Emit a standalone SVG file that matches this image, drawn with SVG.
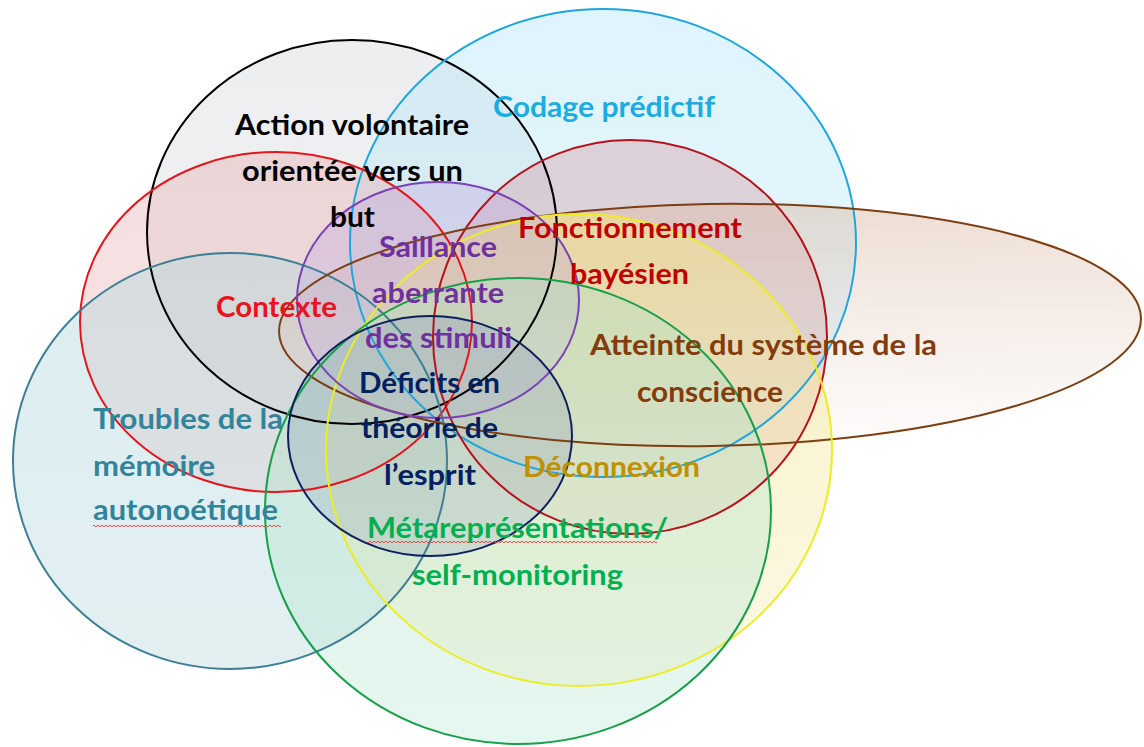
<svg xmlns="http://www.w3.org/2000/svg" width="1144" height="747" viewBox="0 0 1144 747">
<style>
.o{stroke-width:2;fill:none;}
.t{font-family:Lato,"Open Sans","Liberation Sans",sans-serif;font-weight:700;font-size:28px;}
</style>
<defs>
<linearGradient id="gBlack" x1="0" y1="0" x2="0" y2="1"><stop offset="0" stop-color="#d7d9dc" stop-opacity="0.45"/><stop offset="1" stop-color="#d7d9dc" stop-opacity="0.36"/></linearGradient>
<linearGradient id="gBlue" x1="0" y1="0" x2="0" y2="1"><stop offset="0" stop-color="#b6e6f7" stop-opacity="0.45"/><stop offset="1" stop-color="#b6e6f7" stop-opacity="0.32"/></linearGradient>
<linearGradient id="gRed" x1="0" y1="0" x2="0" y2="1"><stop offset="0" stop-color="#e8b2b4" stop-opacity="0.44"/><stop offset="1" stop-color="#e8b2b4" stop-opacity="0.32"/></linearGradient>
<linearGradient id="gTeal" x1="0" y1="0" x2="0" y2="1"><stop offset="0" stop-color="#b2d7dc" stop-opacity="0.44"/><stop offset="1" stop-color="#b2d7dc" stop-opacity="0.38"/></linearGradient>
<linearGradient id="gDred" x1="0" y1="0" x2="0" y2="1"><stop offset="0" stop-color="#d49aa4" stop-opacity="0.4"/><stop offset="1" stop-color="#d49aa4" stop-opacity="0.3"/></linearGradient>
<linearGradient id="gBrown" x1="0" y1="0" x2="0" y2="1"><stop offset="0" stop-color="#dcbca8" stop-opacity="0.5"/><stop offset="1" stop-color="#e0c4b4" stop-opacity="0.05"/></linearGradient>
<linearGradient id="gYellow" x1="0" y1="0" x2="0" y2="1"><stop offset="0" stop-color="#f3e488" stop-opacity="0.55"/><stop offset="1" stop-color="#f5ecb0" stop-opacity="0.32"/></linearGradient>
<linearGradient id="gPurple" x1="0" y1="0" x2="0" y2="1"><stop offset="0" stop-color="#c0a8dc" stop-opacity="0.38"/><stop offset="1" stop-color="#c0a8dc" stop-opacity="0.28"/></linearGradient>
<linearGradient id="gGreen" x1="0" y1="0" x2="0" y2="1"><stop offset="0" stop-color="#b0e0c0" stop-opacity="0.45"/><stop offset="1" stop-color="#c0eada" stop-opacity="0.4"/></linearGradient>
<linearGradient id="gNavy" x1="0" y1="0" x2="0" y2="1"><stop offset="0" stop-color="#909cbc" stop-opacity="0.34"/><stop offset="1" stop-color="#909cbc" stop-opacity="0.24"/></linearGradient>
<pattern id="squig" width="4" height="4" patternUnits="userSpaceOnUse"><path d="M0,3 L2,1 L4,3" stroke="#e0403c" stroke-width="0.9" fill="none"/></pattern>
</defs>
<rect width="1144" height="747" fill="#ffffff"/>

<g id="shapes">
<g id="action-volontaire"><ellipse cx="352" cy="232" rx="205" ry="192" fill="url(#gBlack)"/></g>
<g id="codage-predictif"><ellipse cx="603" cy="243" rx="253" ry="234" fill="url(#gBlue)"/></g>
<g id="contexte"><ellipse cx="276" cy="322" rx="196" ry="170" fill="url(#gRed)"/></g>
<g id="troubles-memoire"><ellipse cx="230" cy="461" rx="217" ry="208" fill="url(#gTeal)"/></g>
<g id="fonctionnement-bayesien"><ellipse cx="630" cy="337" rx="197" ry="197" fill="url(#gDred)"/></g>
<g id="atteinte-conscience"><ellipse cx="710" cy="325" rx="431" ry="121" transform="rotate(-0.9 710 325)" fill="url(#gBrown)"/></g>
<g id="deconnexion"><ellipse cx="579" cy="450" rx="253" ry="236" fill="url(#gYellow)"/></g>
<g id="saillance-aberrante"><ellipse cx="438" cy="300" rx="141" ry="118" fill="url(#gPurple)"/></g>
<g id="metarepresentations"><ellipse cx="518" cy="511" rx="253" ry="233" fill="url(#gGreen)"/></g>
<g id="deficits-theorie-esprit"><ellipse cx="430" cy="436" rx="142" ry="120" fill="url(#gNavy)"/></g>
</g>

<g id="outlines" class="o">
<ellipse cx="352" cy="232" rx="205" ry="192" stroke="#000000"/>
<ellipse cx="603" cy="243" rx="253" ry="234" stroke="#1fa6da"/>
<ellipse cx="276" cy="322" rx="196" ry="170" stroke="#e3161e"/>
<ellipse cx="230" cy="461" rx="217" ry="208" stroke="#3e7f95"/>
<ellipse cx="630" cy="337" rx="197" ry="197" stroke="#b5121b"/>
<ellipse cx="710" cy="325" rx="431" ry="121" transform="rotate(-0.9 710 325)" stroke="#7b3f12"/>
<ellipse cx="579" cy="450" rx="253" ry="236" stroke="#eeec22"/>
<ellipse cx="438" cy="300" rx="141" ry="118" stroke="#7a42b4"/>
<ellipse cx="518" cy="511" rx="253" ry="233" stroke="#17a04a"/>
<ellipse cx="430" cy="436" rx="142" ry="120" stroke="#0e1f5e"/>
</g>

<g id="labels" class="t">
<g id="action-volontaire-label" fill="#000000">
<text x="235" y="135" textLength="234" lengthAdjust="spacingAndGlyphs">Action volontaire</text>
<text x="242" y="181" textLength="221" lengthAdjust="spacingAndGlyphs">orientée vers un</text>
<text x="330" y="227" textLength="45" lengthAdjust="spacingAndGlyphs">but</text>
</g>
<g id="codage-predictif-label" fill="#1cace2">
<text x="493" y="117" textLength="222" lengthAdjust="spacingAndGlyphs">Codage prédictif</text>
</g>
<g id="fonctionnement-bayesien-label" fill="#c00000">
<text x="518" y="238" textLength="224" lengthAdjust="spacingAndGlyphs">Fonctionnement</text>
<text x="570" y="284" textLength="119" lengthAdjust="spacingAndGlyphs">bayésien</text>
</g>
<g id="saillance-aberrante-label" fill="#7030a0">
<text x="379" y="257" textLength="118" lengthAdjust="spacingAndGlyphs">Saillance</text>
<text x="372" y="303" textLength="132" lengthAdjust="spacingAndGlyphs">aberrante</text>
<text x="365" y="348" textLength="147" lengthAdjust="spacingAndGlyphs">des stimuli</text>
</g>
<g id="contexte-label" fill="#e8141c">
<text x="216" y="317" textLength="121" lengthAdjust="spacingAndGlyphs">Contexte</text>
</g>
<g id="atteinte-conscience-label" fill="#843c0c">
<text x="590" y="355" textLength="347" lengthAdjust="spacingAndGlyphs">Atteinte du système de la</text>
<text x="637" y="402" textLength="146" lengthAdjust="spacingAndGlyphs">conscience</text>
</g>
<g id="deficits-theorie-esprit-label" fill="#002060">
<text x="359" y="393" textLength="141" lengthAdjust="spacingAndGlyphs">Déficits en</text>
<text x="361" y="438" textLength="137" lengthAdjust="spacingAndGlyphs">théorie de</text>
<text x="384" y="485" textLength="92" lengthAdjust="spacingAndGlyphs">l’esprit</text>
</g>
<g id="troubles-memoire-label" fill="#31849b">
<text x="93" y="429" textLength="190" lengthAdjust="spacingAndGlyphs">Troubles de la</text>
<text x="93" y="476" textLength="122" lengthAdjust="spacingAndGlyphs">mémoire</text>
<text x="93" y="520" textLength="185" lengthAdjust="spacingAndGlyphs">autonoétique</text>
<rect x="93" y="524" width="188" height="4" fill="url(#squig)"/>
</g>
<g id="deconnexion-label" fill="#bf9000">
<text x="523" y="477" textLength="177" lengthAdjust="spacingAndGlyphs">Déconnexion</text>
</g>
<g id="metarepresentations-label" fill="#00b050">
<text x="367" y="538" textLength="301" lengthAdjust="spacingAndGlyphs">Métareprésentations/</text>
<rect x="367" y="540" width="290" height="4" fill="url(#squig)"/>
<text x="412" y="585" textLength="211" lengthAdjust="spacingAndGlyphs">self-monitoring</text>
</g>
</g>
</svg>
